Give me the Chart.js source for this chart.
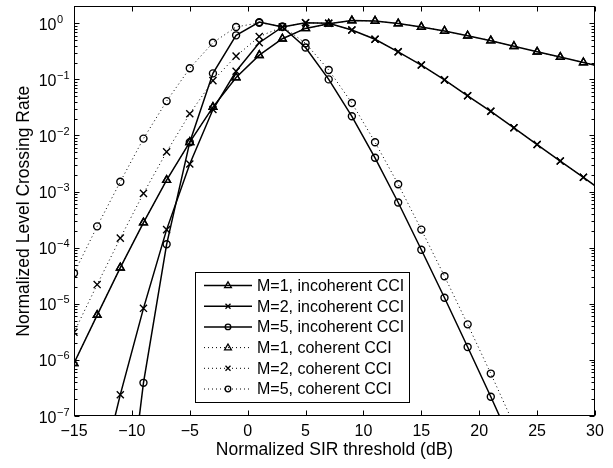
<!DOCTYPE html>
<html>
<head>
<meta charset="utf-8">
<script src="https://cdn.jsdelivr.net/npm/chart.js@4/dist/chart.umd.min.js"></script>
<style>
  html, body { margin: 0; padding: 0; background: #fff; }
  #Chart { display: block; }
</style>
</head>
<body>
<canvas id="Chart" width="613" height="468"></canvas>
<script>
// SIR threshold (dB), markers every 2 dB
const sir = [-15, -13, -11, -9, -7, -5, -3, -1, 1, 3, 5, 7, 9, 11, 13, 15, 17, 19, 21, 23, 25, 27, 29, 31];

// M=1 (incoherent and coherent coincide)
const m1Incoherent = [8.7e-7, 6.3e-6, 4.4e-5, 2.8e-4, 1.6e-3, 7.6e-3, 3.2e-2, 0.108, 0.27, 0.53, 0.81, 0.98,
  1.12, 1.1, 0.99, 0.86, 0.73, 0.60, 0.49, 0.39, 0.31, 0.25, 0.20, 0.16];
const m1Coherent = [8.7e-7, 6.3e-6, 4.4e-5, 2.8e-4, 1.6e-3, 7.6e-3, 3.2e-2, 0.108, 0.27, 0.53, 0.81, 0.98,
  1.12, 1.1, 0.99, 0.86, 0.73, 0.60, 0.49, 0.39, 0.31, 0.25, 0.20, 0.16];

const m2Incoherent = [6e-11, 4.9e-9, 2.4e-7, 8.3e-6, 2.1e-4, 3.1e-3, 2.9e-2, 0.14, 0.45, 0.86, 1.02, 1.0,
  0.76, 0.52, 0.31, 0.18, 0.098, 0.051, 0.027, 0.0137, 0.0069, 0.0035, 0.0018, 9e-4];
const m2Coherent = [3.1e-6, 2.2e-5, 1.48e-4, 9.3e-4, 5.1e-3, 0.0244, 0.095, 0.26, 0.58, 0.86, 1.02, 1.0,
  0.76, 0.52, 0.31, 0.18, 0.098, 0.051, 0.027, 0.0137, 0.0069, 0.0035, 0.0018, 9e-4];

const m5Incoherent = [1e-16, 1e-13, 1.7e-10, 3.9e-7, 1.15e-4, 7.6e-3, 0.128, 0.61, 1.05, 0.86, 0.37, 0.10,
  0.022, 0.0040, 6.4e-4, 9.2e-5, 1.28e-5, 1.7e-6, 2.2e-7, 2.7e-8, 3e-9, 3e-10, 2.5e-11, 2e-12];
const m5Coherent = [3.5e-5, 2.4e-4, 1.5e-3, 8.8e-3, 0.041, 0.158, 0.45, 0.86, 1.02, 0.88, 0.44, 0.147,
  0.038, 7.6e-3, 1.35e-3, 2.1e-4, 3.1e-5, 4.3e-6, 5.7e-7, 7e-8, 8e-9, 8e-10, 7e-11, 5e-12];

const xTicks = [-15, -10, -5, 0, 5, 10, 15, 20, 25, 30];
const yDecades = [-7, -6, -5, -4, -3, -2, -1, 0];

const FONT = "'Liberation Sans', Arial, Helvetica, sans-serif";

function pts(arr) {
  return sir.map((x, i) => ({ x: x, y: arr[i] }));
}

function series(label, arr, style, radius, dotted) {
  return {
    label: label,
    data: pts(arr),
    borderColor: "#000",
    borderWidth: dotted ? 1 : 1.5,
    borderDash: dotted ? [1, 3] : [],
    backgroundColor: "transparent",
    pointStyle: style,
    pointRadius: radius,
    pointBorderWidth: 1.4,
    pointBorderColor: "#000",
    pointBackgroundColor: "rgba(0,0,0,0)",
    tension: 0,
    fill: false,
  };
}

function marker(ctx, style, x, y) {
  ctx.beginPath();
  if (style === "triangle") {
    ctx.moveTo(x, y - 3.6);
    ctx.lineTo(x + 3.4, y + 2.2);
    ctx.lineTo(x - 3.4, y + 2.2);
    ctx.closePath();
  } else if (style === "crossRot") {
    ctx.moveTo(x - 2.5, y - 2.5);
    ctx.lineTo(x + 2.5, y + 2.5);
    ctx.moveTo(x + 2.5, y - 2.5);
    ctx.lineTo(x - 2.5, y + 2.5);
  } else {
    ctx.arc(x, y, 2.8, 0, Math.PI * 2);
  }
  ctx.stroke();
}

const axesPlugin = {
  id: "axesPlugin",
  afterDraw(chart) {
    const ctx = chart.ctx;
    const a = chart.chartArea;
    const xs = chart.scales.x;
    const ys = chart.scales.y;
    const L = Math.round(a.left) + 0.5, R = Math.round(a.right) - 0.5;
    const T = Math.round(a.top) + 0.5, B = Math.round(a.bottom) - 0.5;

    ctx.save();
    ctx.strokeStyle = "#000";
    ctx.fillStyle = "#000";
    ctx.lineWidth = 1;
    ctx.setLineDash([]);
    ctx.strokeRect(L, T, R - L, B - T);

    ctx.beginPath();
    xTicks.forEach((v) => {
      const px = Math.round(xs.getPixelForValue(v)) + 0.5;
      ctx.moveTo(px, B); ctx.lineTo(px, B - 5);
      ctx.moveTo(px, T); ctx.lineTo(px, T + 5);
    });
    yDecades.forEach((k) => {
      for (let m = 1; m <= 9; m++) {
        const v = m * Math.pow(10, k);
        if (v > ys.max) break;
        const py = Math.round(ys.getPixelForValue(v)) + 0.5;
        const len = m === 1 ? 5 : 3;
        ctx.moveTo(L, py); ctx.lineTo(L + len, py);
        ctx.moveTo(R, py); ctx.lineTo(R - len, py);
      }
    });
    ctx.stroke();

    // x tick labels
    ctx.font = "16px " + FONT;
    ctx.textAlign = "center";
    ctx.textBaseline = "alphabetic";
    xTicks.forEach((v) => {
      const txt = v < 0 ? "\u2212" + Math.abs(v) : String(v);
      ctx.fillText(txt, xs.getPixelForValue(v), 436);
    });

    // y tick labels 10^k
    yDecades.forEach((k) => {
      const py = ys.getPixelForValue(Math.pow(10, k));
      ctx.font = "16px " + FONT;
      ctx.textAlign = "right";
      ctx.fillText("10", 56.5, py + 6.5);
      ctx.font = "11px " + FONT;
      ctx.textAlign = "left";
      ctx.fillText(k === 0 ? "0" : "\u2212" + (-k), 57, py - 0.5);
    });

    // axis titles
    ctx.font = "17.5px " + FONT;
    ctx.textAlign = "center";
    ctx.fillText("Normalized SIR threshold (dB)", (a.left + a.right) / 2, 454.5);
    ctx.save();
    ctx.translate(28.8, (a.top + a.bottom) / 2);
    ctx.rotate(-Math.PI / 2);
    ctx.fillText("Normalized Level Crossing Rate", 0, 0);
    ctx.restore();

    // legend box
    const bx = 195.5, by = 272.5, bw = 214, bh = 130;
    ctx.fillStyle = "#fff";
    ctx.fillRect(bx, by, bw, bh);
    ctx.strokeRect(bx, by, bw, bh);
    ctx.fillStyle = "#000";
    ctx.font = "16px " + FONT;
    ctx.textAlign = "left";
    ctx.textBaseline = "middle";
    chart.data.datasets.forEach((ds, i) => {
      const ry = 285.5 + i * 20.7;
      ctx.lineWidth = ds.borderWidth;
      ctx.setLineDash(ds.borderDash);
      ctx.beginPath();
      ctx.moveTo(204, ry);
      ctx.lineTo(252, ry);
      ctx.stroke();
      ctx.setLineDash([]);
      ctx.lineWidth = 1.3;
      marker(ctx, ds.pointStyle, 228, ry);
      ctx.fillText(ds.label, 257, ry + 1);
    });
    ctx.restore();
  },
};

const ctx = document.getElementById("Chart").getContext("2d");
const myChart = new Chart(ctx, {
  type: "line",
  data: {
    datasets: [
      series("M=1, incoherent CCI", m1Incoherent, "triangle", 4.5, false),
      series("M=2, incoherent CCI", m2Incoherent, "crossRot", 5, false),
      series("M=5, incoherent CCI", m5Incoherent, "circle", 3.5, false),
      series("M=1, coherent CCI", m1Coherent, "triangle", 4.5, true),
      series("M=2, coherent CCI", m2Coherent, "crossRot", 5, true),
      series("M=5, coherent CCI", m5Coherent, "circle", 3.5, true),
    ],
  },
  options: {
    responsive: false,
    animation: false,
    devicePixelRatio: 1,
    layout: { padding: { top: 5, right: 18, left: 0, bottom: 0 } },
    plugins: {
      legend: { display: false },
      tooltip: { enabled: false },
    },
    scales: {
      x: {
        type: "linear",
        min: -15,
        max: 30,
        grid: { display: false, drawTicks: false },
        border: { display: false },
        ticks: { display: false },
        afterFit: (s) => { s.height = 52; },
      },
      y: {
        type: "logarithmic",
        min: 1e-7,
        max: 2,
        grid: { display: false, drawTicks: false },
        border: { display: false },
        ticks: { display: false },
        afterFit: (s) => { s.width = 74; },
      },
    },
  },
  plugins: [axesPlugin],
});
</script>
</body>
</html>
